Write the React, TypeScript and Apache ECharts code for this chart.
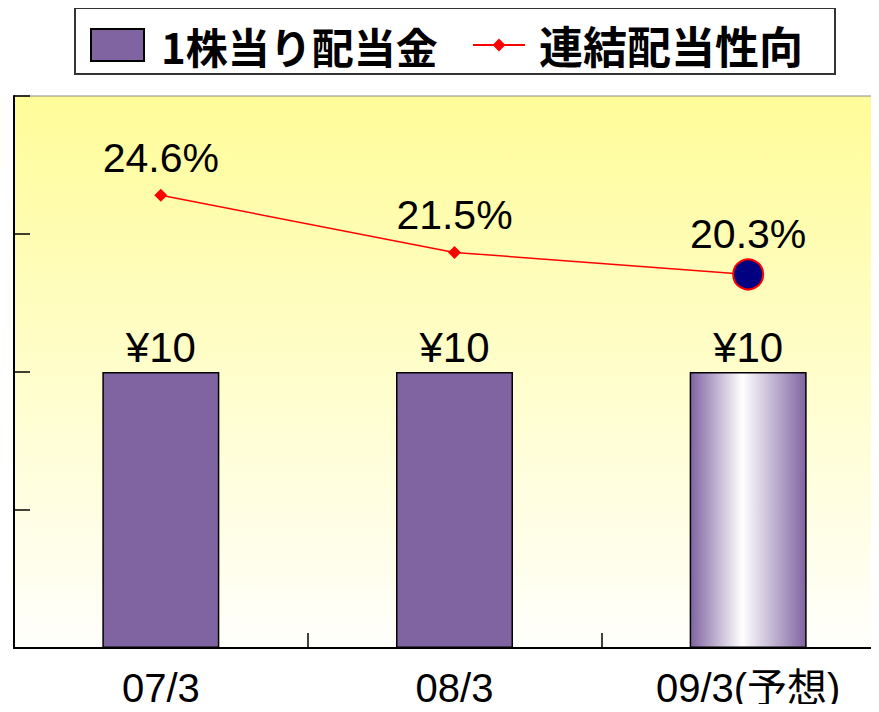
import React, { useEffect, useRef } from "react";
import * as echarts from "echarts";

const categories = ["07/3", "08/3", "09/3(予想)"];
const dividend = [10, 10, 10];
const payoutRatio = [24.6, 21.5, 20.3];
const barName = "1株当り配当金";
const lineName = "連結配当性向";

const NUM_FONT = '"Liberation Sans", "Noto Sans CJK JP", sans-serif';
const CJK_FONT = '"Noto Sans CJK JP", sans-serif';
const PURPLE = "#8064A2";

export default function App() {
  const ref = useRef<HTMLDivElement>(null);
  useEffect(() => {
    if (!ref.current) return;
    const chart = echarts.init(ref.current, null, { renderer: "svg" });
    const lastIdx = dividend.length - 1;
    chart.setOption({
      animation: false,
      backgroundColor: "#ffffff",
      graphic: [
        {
          type: "rect",
          z: 0,
          shape: { x: 75, y: 8, width: 760, height: 66 },
          style: { fill: "#ffffff", stroke: "#333333", lineWidth: 2 },
        },
      ],
      legend: [
        {
          data: [{ name: barName, icon: "rect" }],
          left: 90,
          top: 24,
          itemWidth: 53,
          itemHeight: 32,
          padding: 0,
          textStyle: {
            fontSize: 42,
            fontFamily: CJK_FONT,
            fontWeight: "bold",
            color: "#000",
            padding: [4, 0, 0, 12],
          },
        },
        {
          data: [lineName],
          left: 472,
          top: 23,
          itemWidth: 52,
          itemHeight: 16,
          padding: 0,
          textStyle: {
            fontSize: 44,
            fontFamily: CJK_FONT,
            fontWeight: "bold",
            color: "#000",
            padding: [6, 0, 0, 9],
          },
        },
      ],
      grid: {
        left: 14,
        top: 96,
        bottom: 64,
        width: 881,
        outerBoundsMode: "none",
        containLabel: false,
        show: true,
        borderColor: "#888888",
        borderWidth: 1,
        backgroundColor: new echarts.graphic.LinearGradient(0, 0, 0, 1, [
          { offset: 0, color: "#FFFC99" },
          { offset: 1, color: "#FFFFFC" },
        ]),
      },
      xAxis: {
        type: "category",
        data: categories,
        axisLine: { show: true, lineStyle: { color: "#000", width: 2 } },
        axisTick: { show: true, inside: true, length: 15, lineStyle: { color: "#000", width: 1.5 } },
        axisLabel: {
          fontSize: 40,
          lineHeight: 36,
          fontFamily: NUM_FONT,
          color: "#000",
          margin: 22,
        },
      },
      yAxis: [
        {
          type: "value",
          min: 0,
          max: 20,
          interval: 5,
          axisLine: { show: true, lineStyle: { color: "#000", width: 2 } },
          axisTick: { show: true, inside: true, length: 16, lineStyle: { color: "#000", width: 1.5 } },
          axisLabel: { show: false },
          splitLine: { show: false },
        },
        {
          type: "value",
          min: 0,
          max: 30,
          show: false,
          splitLine: { show: false },
        },
      ],
      series: [
        {
          name: barName,
          type: "bar",
          barWidth: 117,
          data: dividend.map((v, i) => ({
            value: v,
            itemStyle:
              i === lastIdx
                ? {
                    color: new echarts.graphic.LinearGradient(0, 0, 1, 0, [
                      { offset: 0, color: PURPLE },
                      { offset: 0.45, color: "#ffffff" },
                      { offset: 1, color: PURPLE },
                    ]),
                  }
                : undefined,
          })),
          itemStyle: { color: PURPLE, borderColor: "#000", borderWidth: 1.5 },
          label: {
            show: true,
            position: "top",
            distance: 4,
            formatter: (p: any) => "¥" + p.value,
            fontSize: 42,
            fontFamily: NUM_FONT,
            color: "#000",
          },
        },
        {
          name: lineName,
          type: "line",
          yAxisIndex: 1,
          symbol: "diamond",
          symbolSize: 13,
          itemStyle: { color: "#FF0000" },
          lineStyle: { color: "#FF0000", width: 1.5 },
          data: payoutRatio.map((v, i) =>
            i === lastIdx
              ? {
                  value: v,
                  symbol: "circle",
                  symbolSize: 30,
                  itemStyle: { color: "#000080", borderColor: "#FF0000", borderWidth: 2 },
                  label: { distance: 4 },
                }
              : { value: v }
          ),
          label: {
            show: true,
            position: "top",
            distance: 10,
            formatter: (p: any) => p.value + "%",
            fontSize: 41,
            fontFamily: NUM_FONT,
            color: "#000",
          },
        },
      ],
    });
    return () => chart.dispose();
  }, []);
  return <div ref={ref} style={{ width: 879, height: 712, margin: -8 }} />;
}
